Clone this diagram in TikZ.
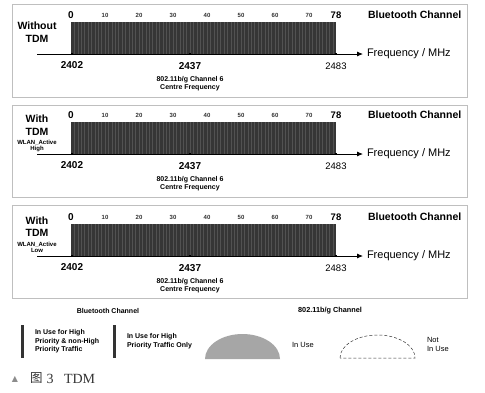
\documentclass[tikz,border=0pt]{standalone}
\usepackage{fontspec}
\setmainfont{Liberation Sans}
\newfontfamily\cjkfont{Noto Sans CJK SC}
\newfontfamily\seriffont{Liberation Serif}
\newfontfamily\symfont{DejaVu Sans}
\usetikzlibrary{arrows.meta}

\tikzset{
  every node/.style={inner sep=0pt, outer sep=0pt},
  panelbox/.style={draw=black!25, line width=0.9pt},
  barfill/.style={fill=black!79},
  stripe/.style={draw=black!68, line width=0.45pt},
  axisline/.style={draw=black, line width=0.8pt, -{Latex[length=6pt,width=5pt]}},
  tickmark/.style={fill=black, minimum size=2.6pt, inner sep=0pt},
  bigtxt/.style={font=\bfseries\fontsize{10.5}{12}\selectfont},
  freqtxt/.style={font=\fontsize{11}{12}\selectfont},
  numtxt/.style={font=\bfseries\fontsize{10}{12}\selectfont},
  endnum/.style={font=\fontsize{9.5}{12}\selectfont},
  smallnum/.style={font=\bfseries\fontsize{6}{7}\selectfont, text=black!80},
  chtxt/.style={font=\bfseries\fontsize{7}{7.5}\selectfont, align=center},
  modetxt/.style={font=\bfseries\fontsize{6}{6.5}\selectfont, align=center},
  legtxt/.style={font=\bfseries\fontsize{7}{8.6}\selectfont, align=left, anchor=west},
  legplain/.style={font=\fontsize{7.5}{9}\selectfont, align=left, anchor=west},
  legbar/.style={draw=black!80, line width=3pt},
}

\newcommand{\drawpanel}[2]{%
  \begin{scope}[shift={(0,#2)}]
    \coordinate (#1a0) at (37,54);
    \coordinate (#1a1) at (363,54);
    \draw[axisline] (#1a0) -- (#1a1);
    \fill[barfill] (71,21.5) rectangle (336,54);
    \foreach \i in {1,...,77} {\draw[stripe] ({71+3.4*\i},22) -- ({71+3.4*\i},53.5);}
    \node[tickmark] (#1t0) at (72,54) {};
    \node[tickmark] (#1t1) at (190,54) {};
    \node[tickmark] (#1t2) at (336,54) {};
    \node[numtxt] (#1c0) at (71,15) {0};
    \foreach \k in {1,...,7} {\node[smallnum] (#1c\k) at ({71+34*\k},15.5) {\k0};}
    \node[numtxt, font=\bfseries\fontsize{9.5}{12}\selectfont] (#1c78) at (336,15) {78};
    \node[bigtxt, anchor=west] (#1bt) at (368,15) {Bluetooth Channel};
    \node[freqtxt, anchor=west] (#1fq) at (367,54) {Frequency / MHz};
    \node[numtxt] (#1f0) at (72,65) {2402};
    \node[numtxt] (#1f1) at (190,66) {2437};
    \node[endnum] (#1f2) at (336,66) {2483};
    \node[chtxt] (#1cf) at (190,83.5) {802.11b/g Channel 6\\Centre Frequency};
  \end{scope}%
}

\begin{document}
\begin{tikzpicture}[x=1pt, y=-1pt]
  \fill[white] (0,0) rectangle (485,392);
  \useasboundingbox (0,0) rectangle (485,392);

  % panel frames
  \draw[panelbox] (12,4) rectangle (467,97);
  \draw[panelbox] (12,105) rectangle (467,197);
  \draw[panelbox] (12,205) rectangle (467,298);

  \drawpanel{p}{0}
  \drawpanel{q}{100}
  \drawpanel{r}{202}

  % left labels
  \node[bigtxt] (pw1) at (37,26) {Without};
  \node[bigtxt] (pw2) at (37,39) {TDM};
  \node[bigtxt] (qw1) at (37,119) {With};
  \node[bigtxt] (qw2) at (37,132) {TDM};
  \node[modetxt] (qw3) at (37,146) {WLAN\_Active\\High};
  \node[bigtxt] (rw1) at (37,221) {With};
  \node[bigtxt] (rw2) at (37,233) {TDM};
  \node[modetxt] (rw3) at (37,247.5) {WLAN\_Active\\Low};

  % legend
  \node[font=\bfseries\fontsize{7}{8}\selectfont] (lbt) at (108,311) {Bluetooth Channel};
  \node[font=\bfseries\fontsize{7.3}{8}\selectfont] (lwl) at (330,311) {802.11b/g Channel};
  \coordinate (lb1a) at (22,325);
  \coordinate (lb1b) at (22,358);
  \draw[legbar] (lb1a) -- (lb1b);
  \node[legtxt] (lt1) at (35,341.5) {In Use for High\\Priority \& non-High\\Priority Traffic};
  \coordinate (lb2a) at (114,325);
  \coordinate (lb2b) at (114,358);
  \draw[legbar] (lb2a) -- (lb2b);
  \node[legtxt] (lt2) at (127,341) {In Use for High\\Priority Traffic Only};
  \fill[black!35] (205,359) arc[start angle=180, end angle=0, x radius=37.5pt, y radius=25pt] -- cycle;
  \node[legplain] (lt3) at (292,345) {In Use};
  \draw[black!80, densely dashed, line width=0.5pt] (340,358) arc[start angle=180, end angle=0, x radius=37.5pt, y radius=23pt] -- cycle;
  \node[legplain] (lt4) at (427,344.5) {Not\\In Use};

  % caption
  \node[font=\symfont\fontsize{8}{9}\selectfont, text=black!45] (cap0) at (15,379) {▲};
  \node[font=\cjkfont\fontsize{12.5}{14}\selectfont, text=black!80] (cap1) at (36.5,378) {图};
  \node[font=\seriffont\fontsize{14}{16}\selectfont, text=black!80] (cap2) at (50,378.5) {3};
  \node[font=\seriffont\fontsize{14}{16}\selectfont, text=black!80, anchor=west] (cap3) at (64,378.5) {TDM};
\end{tikzpicture}
\end{document}
